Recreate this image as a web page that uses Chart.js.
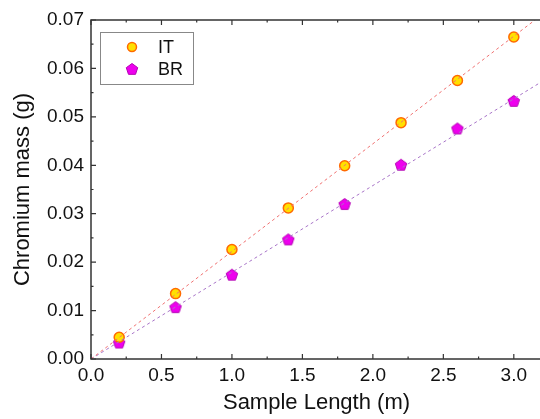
<!DOCTYPE html>
<html>
<head>
<meta charset="utf-8">
<script src="https://cdn.jsdelivr.net/npm/chart.js@4.4.1/dist/chart.umd.min.js"></script>
<style>
  html, body { margin: 0; padding: 0; background: #fff; overflow: hidden; }
  #wrap { width: 549px; height: 419px; }
</style>
</head>
<body>
<div id="wrap"><canvas id="massChart"></canvas></div>
<script>
// sample lengths (m)
var lengths = [0.2, 0.6, 1.0, 1.4, 1.8, 2.2, 2.6, 3.0];
// chromium mass (g)
var itMass = [0.0045, 0.0135, 0.0226, 0.0312, 0.0399, 0.0488, 0.0575, 0.0665];
var brMass = [0.0034, 0.0107, 0.0174, 0.0247, 0.0320, 0.0401, 0.0476, 0.0533];
// fitted lines, read at both ends
var fitX = [0, 3.2];
var itFit = [0, 0.0711];
var brFit = [0, 0.0573];
var seriesNames = ['IT', 'BR'];

var FONT = 'Arial, "Liberation Sans", sans-serif';

function toPoints(xs, ys) {
    return xs.map(function (x, i) { return { x: x, y: ys[i] }; });
}

// pentagon marker for BR
function makePentagon(r, fill, stroke) {
    var size = Math.ceil(r * 2 + 4);
    var c = document.createElement('canvas');
    c.width = size; c.height = size;
    var g = c.getContext('2d');
    var cx = size / 2, cy = size / 2 + 0.5;
    g.beginPath();
    for (var i = 0; i < 5; i++) {
        var a = -Math.PI / 2 + i * 2 * Math.PI / 5;
        var px = cx + r * Math.cos(a), py = cy + r * Math.sin(a);
        if (i === 0) g.moveTo(px, py); else g.lineTo(px, py);
    }
    g.closePath();
    g.fillStyle = fill;
    g.fill();
    g.lineWidth = 1;
    g.strokeStyle = stroke;
    g.stroke();
    return c;
}
var pentagon = makePentagon(6, '#ee00ee', '#b400b4');

// frame, inward ticks and boxed legend
var framePlugin = {
    id: 'framePlugin',
    afterDraw: function (chart) {
        var ctx = chart.ctx;
        var a = chart.chartArea;
        var xs = chart.scales.x, ys = chart.scales.y;
        ctx.save();
        ctx.strokeStyle = '#333';
        ctx.lineWidth = 1.5;
        ctx.strokeRect(a.left, a.top, a.right - a.left, a.bottom - a.top);

        ctx.lineWidth = 1.2;
        ctx.beginPath();
        for (var v = 0; v <= 3.2001; v += 0.25) {
            var px = xs.getPixelForValue(v);
            var len = (Math.round(v * 100) % 50 === 0) ? 5 : 2.5;
            ctx.moveTo(px, a.bottom); ctx.lineTo(px, a.bottom - len);
            ctx.moveTo(px, a.top); ctx.lineTo(px, a.top + len);
        }
        for (var k = 0; k <= 14; k++) {
            var py = ys.getPixelForValue(k * 0.005);
            var l2 = (k % 2 === 0) ? 5 : 2.5;
            ctx.moveTo(a.left, py); ctx.lineTo(a.left + l2, py);
        }
        ctx.stroke();

        // legend box
        ctx.strokeStyle = '#888';
        ctx.lineWidth = 1;
        ctx.strokeRect(100.5, 32.5, 93, 52);
        ctx.font = '18px ' + FONT;
        ctx.textBaseline = 'middle';
        ctx.textAlign = 'left';
        // IT marker
        ctx.beginPath();
        ctx.arc(132, 47, 4.5, 0, Math.PI * 2);
        ctx.fillStyle = '#ffe000';
        ctx.fill();
        ctx.lineWidth = 1.5;
        ctx.strokeStyle = '#ff6a00';
        ctx.stroke();
        ctx.drawImage(pentagon, 132 - pentagon.width / 2, 69 - pentagon.height / 2);
        ctx.fillStyle = '#111';
        ctx.fillText(seriesNames[0], 158, 48);
        ctx.fillText(seriesNames[1], 158, 70);
        ctx.restore();
    }
};

var massChart = new Chart(document.getElementById('massChart').getContext('2d'), {
    type: 'scatter',
    data: {
        datasets: [{
            label: seriesNames[0] + ' fit',
            type: 'line',
            data: toPoints(fitX, itFit),
            borderColor: '#f07272',
            borderWidth: 1,
            borderDash: [3, 3],
            pointRadius: 0,
            fill: false
        }, {
            label: seriesNames[1] + ' fit',
            type: 'line',
            data: toPoints(fitX, brFit),
            borderColor: '#a874c8',
            borderWidth: 1,
            borderDash: [3, 3],
            pointRadius: 0,
            fill: false
        }, {
            label: seriesNames[0],
            data: toPoints(lengths, itMass),
            pointStyle: 'circle',
            pointRadius: 5,
            pointBackgroundColor: '#ffe000',
            pointBorderColor: '#ff6a00',
            pointBorderWidth: 1.5
        }, {
            label: seriesNames[1],
            data: toPoints(lengths, brMass),
            pointStyle: pentagon,
            pointRadius: 6
        }]
    },
    options: {
        responsive: true,
        maintainAspectRatio: false,
        animation: false,
        layout: { padding: { top: 20, right: 3, left: 0, bottom: 0 } },
        plugins: { legend: { display: false }, tooltip: { enabled: false } },
        scales: {
            x: {
                type: 'linear',
                min: 0,
                max: 3.2,
                afterFit: function (s) { s.height = 60; },
                grid: { display: false, drawTicks: false },
                border: { display: false },
                ticks: {
                    stepSize: 0.5,
                    includeBounds: false,
                    padding: 5,
                    color: '#111',
                    font: { family: FONT, size: 19 },
                    maxRotation: 0,
                    callback: function (v) { return v.toFixed(1); }
                },
                title: {
                    display: true,
                    text: 'Sample Length (m)',
                    color: '#111',
                    font: { family: FONT, size: 22 },
                    padding: { top: 0, bottom: 3 }
                }
            },
            y: {
                min: 0,
                max: 0.07,
                afterFit: function (s) { s.width = 91; },
                grid: { display: false, drawTicks: false },
                border: { display: false },
                ticks: {
                    stepSize: 0.01,
                    padding: 7,
                    color: '#111',
                    font: { family: FONT, size: 19 },
                    callback: function (v) { return v.toFixed(2); }
                },
                title: {
                    display: true,
                    text: 'Chromium mass (g)',
                    color: '#111',
                    font: { family: FONT, size: 22 },
                    padding: { top: 10, bottom: 0 }
                }
            }
        }
    },
    plugins: [framePlugin]
});
</script>
</body>
</html>
